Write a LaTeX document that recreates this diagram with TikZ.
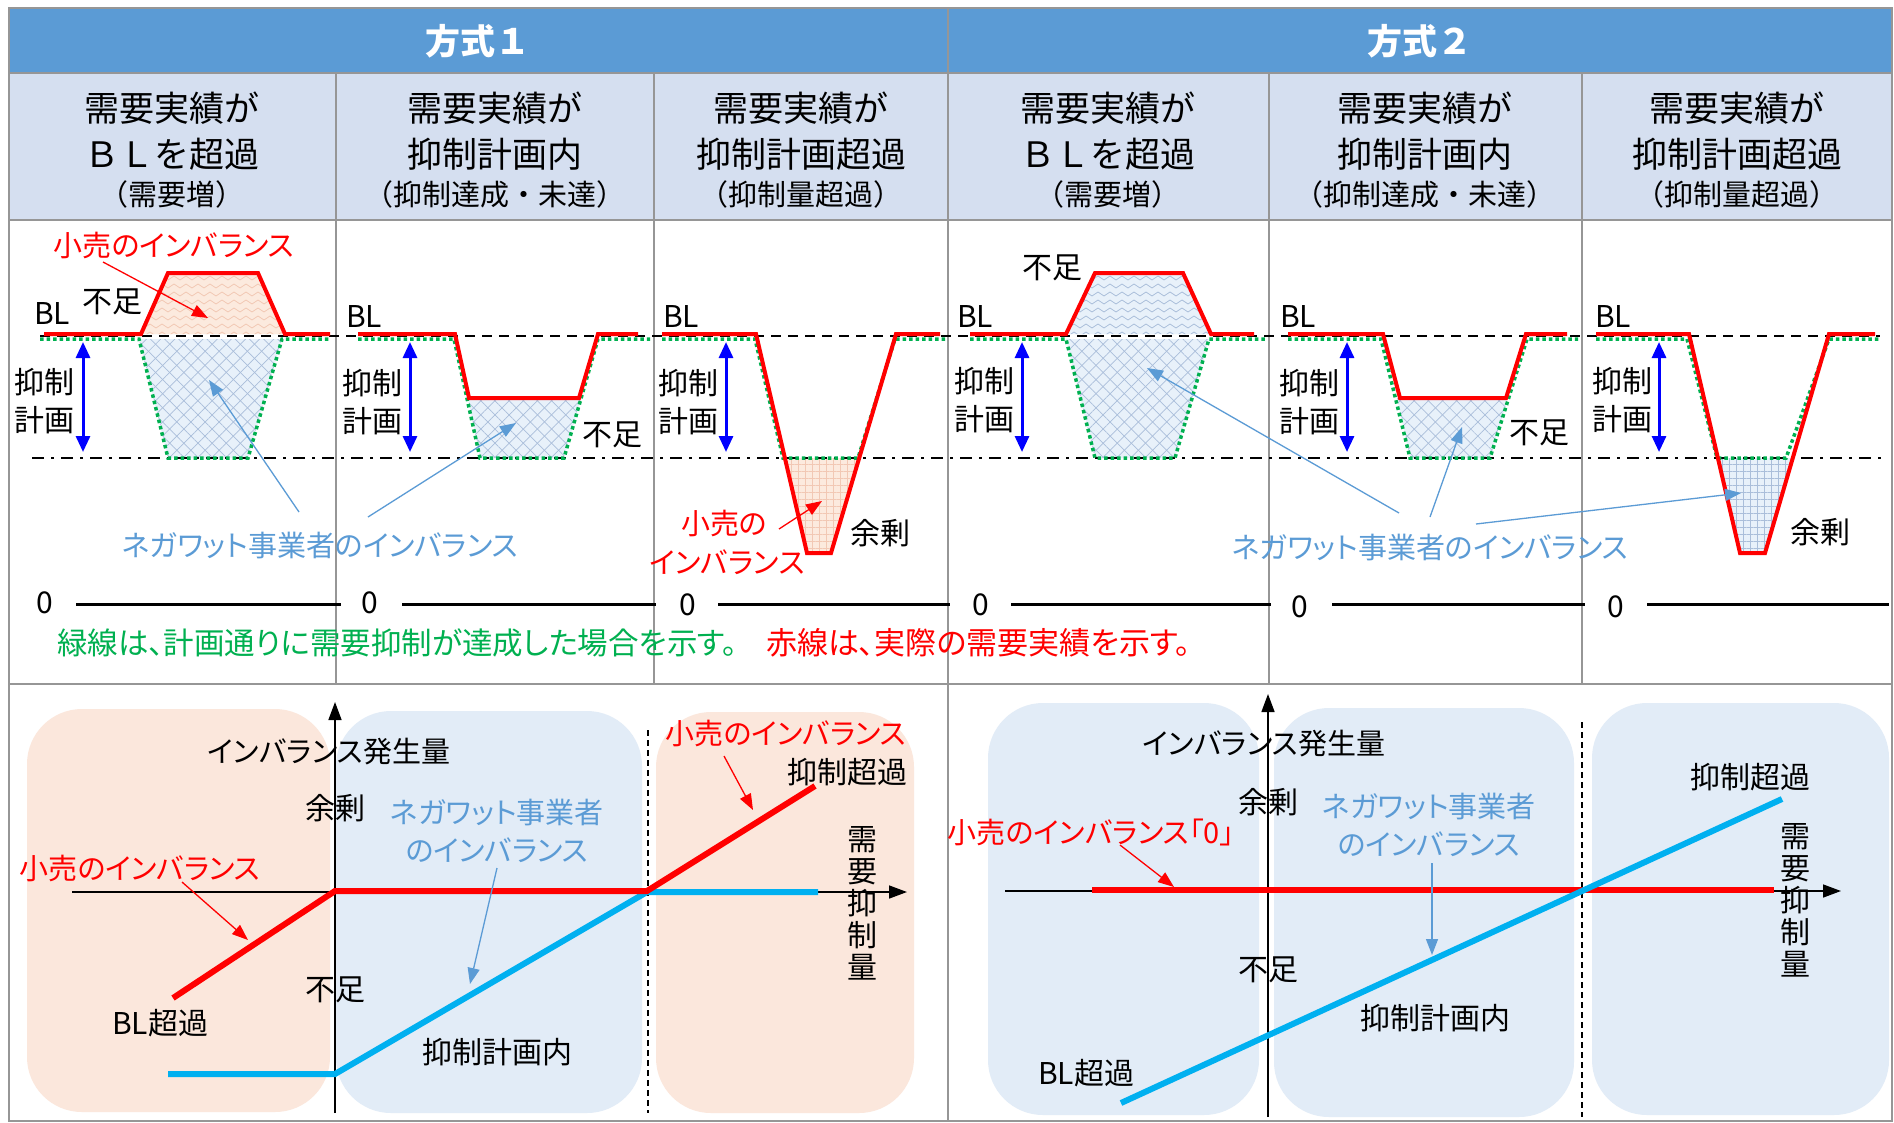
\documentclass[tikz,border=0pt]{standalone}
\usepackage{fontspec}
\setmainfont[RawFeature=+palt]{Noto Sans CJK JP}
\newfontfamily\jpfix{Noto Sans CJK JP}
\usetikzlibrary{arrows.meta,patterns.meta}

\definecolor{hdrblue}{RGB}{91,155,213}
\definecolor{subhdr}{RGB}{213,223,240}
\definecolor{gridgray}{RGB}{150,150,150}
\definecolor{redl}{RGB}{255,0,0}
\definecolor{greenl}{RGB}{0,176,80}
\definecolor{lblue}{RGB}{91,155,213}
\definecolor{cyanl}{RGB}{0,176,240}
\definecolor{panelblue}{RGB}{226,236,247}
\definecolor{panelorange}{RGB}{251,231,220}
\definecolor{fillblue}{RGB}{232,241,250}
\definecolor{fillorange}{RGB}{252,234,222}
\definecolor{patblue}{RGB}{170,190,218}
\definecolor{patorange}{RGB}{242,200,180}

\pgfdeclarepattern{
  name=zigzagp,
  type=uncolored,
  bottom left={\pgfpoint{-1pt}{-1pt}},
  top right={\pgfpoint{13pt}{9pt}},
  tile size={\pgfpoint{12pt}{8pt}},
  code={
    \pgfsetlinewidth{0.8pt}
    \pgfpathmoveto{\pgfpoint{0pt}{2pt}}
    \pgfpathlineto{\pgfpoint{6pt}{6pt}}
    \pgfpathlineto{\pgfpoint{12pt}{2pt}}
    \pgfusepath{stroke}
  }
}

\tikzset{
  hdr/.style={inner sep=0pt, text=white, font=\jpfix\bfseries\fontsize{35}{38}\selectfont},
  subA/.style={inner sep=0pt, font=\jpfix\fontsize{35}{38}\selectfont},
  subB/.style={inner sep=0pt, font=\jpfix\fontsize{29}{31}\selectfont},
  lab/.style={inner sep=0pt, font=\fontsize{30}{32}\selectfont},
  labs/.style={inner sep=0pt, font=\fontsize{29}{32}\selectfont},
  notesg/.style={inner sep=0pt, font=\fontsize{30.5}{34}\selectfont},
  notes/.style={inner sep=0pt, font=\fontsize{31}{34}\selectfont},
  redtxt/.style={labs, text=redl},
  bluetxt/.style={labs, text=lblue},
  gridln/.style={draw=gridgray, line width=2.5pt},
  redln/.style={draw=redl, line width=4pt},
  greenln/.style={draw=greenl, line width=3.5pt, dash pattern=on 3.5pt off 3pt},
  bldash/.style={draw=black, line width=2.5pt, dash pattern=on 10pt off 7pt},
  ddash/.style={draw=black, line width=2.5pt, dash pattern=on 12pt off 7pt on 3pt off 7pt},
  planarr/.style={draw=blue, line width=3pt, {Triangle[length=16pt,width=14pt]}-{Triangle[length=16pt,width=14pt]}},
  annb/.style={draw=lblue, line width=1.3pt, -{Triangle[length=16pt,width=12pt]}},
  annr/.style={draw=redl, line width=1.3pt, -{Triangle[length=16pt,width=12pt]}},
  axisarr/.style={draw=black, line width=1.5pt, -{Triangle[length=18pt,width=13pt]}},
  zeroln/.style={draw=black, line width=3pt},
  thickred/.style={draw=redl, line width=6pt},
  thickcyan/.style={draw=cyanl, line width=6pt},
  vdash/.style={draw=black, line width=1.2pt, dash pattern=on 6pt off 4pt},
  panelO/.style={fill=panelorange, rounded corners=55pt},
  panelB/.style={fill=panelblue, rounded corners=55pt},
  netfill/.style={fill=fillblue,
     postaction={pattern={Lines[angle=45,distance=10pt,line width=0.7pt]}, pattern color=patblue},
     postaction={pattern={Lines[angle=-45,distance=10pt,line width=0.7pt]}, pattern color=patblue}},
  netzig/.style={fill=fillblue, postaction={pattern=zigzagp, pattern color=patblue}},
  netgrid/.style={fill=fillblue,
     postaction={pattern={Lines[angle=0,distance=7pt,line width=0.6pt]}, pattern color=patblue},
     postaction={pattern={Lines[angle=90,distance=7pt,line width=0.6pt]}, pattern color=patblue}},
  retailzig/.style={fill=fillorange, postaction={pattern=zigzagp, pattern color=patorange}},
  retailgrid/.style={fill=fillorange,
     postaction={pattern={Lines[angle=0,distance=7pt,line width=0.6pt]}, pattern color=patorange},
     postaction={pattern={Lines[angle=90,distance=7pt,line width=0.6pt]}, pattern color=patorange}},
}

\begin{document}
\begin{tikzpicture}[x=1pt,y=-1pt]
\useasboundingbox (0,0) rectangle (1894,1122);
\fill[white] (0,0) rectangle (1894,1122);

% ---------- header fills ----------
\fill[hdrblue] (9,8) rectangle (1892,73);
\fill[subhdr] (9,73) rectangle (1892,220);

% ---------- bottom panels ----------
\path[panelO] (27,709) rectangle (330,1112);
\path[panelB] (336,711) rectangle (642,1113);
\path[panelO] (656,712) rectangle (914,1113);
\path[panelB] (988,703) rectangle (1259,1115);
\path[panelB] (1274,708) rectangle (1574,1117);
\path[panelB] (1592,703) rectangle (1889,1115);

% ---------- table grid ----------
\draw[gridln] (9,8) rectangle (1892,1121);
\draw[gridln] (9,73) -- (1892,73);
\draw[gridln] (9,220) -- (1892,220);
\draw[gridln] (9,684) -- (1892,684);
\draw[gridln] (948,8) -- (948,1121);
\foreach \gx in {336,654,1269,1582} \draw[gridln] (\gx,73) -- (\gx,684);

% ---------- headers ----------
\node[hdr] (hA) at (478,41) {方式１};
\node[hdr] (hB) at (1420,41) {方式２};
\foreach \n/\cx/\lb/\lc in {1/172/ＢＬを超過/（需要増）, 2/495/抑制計画内/（抑制達成・未達）, 3/801/抑制計画超過/（抑制量超過）, 4/1108/ＢＬを超過/（需要増）, 5/1425/抑制計画内/（抑制達成・未達）, 6/1737/抑制計画超過/（抑制量超過）}{
  \node[subA] (sa\n) at (\cx,108) {需要実績が};
  \node[subA] (sb\n) at (\cx,154) {\lb};
  \node[subB] (sc\n) at (\cx,194) {\lc};
}

% ---------- middle: fills ----------
\path[retailzig] (141,334) -- (168,273) -- (258,273) -- (285,334) -- cycle;
\path[netfill] (139,339) -- (168,458) -- (248,458) -- (282,339) -- cycle;
\path[netfill] (468,398) -- (581,398) -- (564,458) -- (480,458) -- cycle;
\path[retailgrid] (785,458) -- (807,553) -- (831,553) -- (860,458) -- cycle;
\path[netzig] (1066,334) -- (1095,273) -- (1183,273) -- (1211,334) -- cycle;
\path[netfill] (1066,339) -- (1095,458) -- (1175,458) -- (1209,339) -- cycle;
\path[netfill] (1397,398) -- (1508,398) -- (1490,458) -- (1410,458) -- cycle;
\path[netgrid] (1718,458) -- (1740,553) -- (1765,553) -- (1793,458) -- cycle;

% ---------- middle: reference lines ----------
\draw[bldash] (40,336) -- (1880,336);
\draw[ddash] (32,458) -- (1884,458);

% ---------- middle: green (plan) ----------
\draw[greenln] (40,339) -- (139,339) -- (168,458) -- (248,458) -- (282,339) -- (330,339);
\draw[greenln] (358,339) -- (454,339) -- (480,458) -- (564,458) -- (598,339) -- (650,339);
\draw[greenln] (662,339) -- (755,339) -- (783,458) -- (858,458) -- (895,339) -- (945,339);
\draw[greenln] (970,339) -- (1066,339) -- (1095,458) -- (1175,458) -- (1209,339) -- (1265,339);
\draw[greenln] (1288,339) -- (1381,339) -- (1410,458) -- (1490,458) -- (1527,339) -- (1578,339);
\draw[greenln] (1596,339) -- (1687,339) -- (1717,458) -- (1786,458) -- (1829,339) -- (1879,339);

% ---------- middle: red (actual) ----------
\draw[redln] (44,334) -- (141,334) -- (168,273) -- (258,273) -- (285,334) -- (330,334);
\draw[redln] (358,334) -- (455,334) -- (469,398) -- (579,398) -- (598,334) -- (638,334);
\draw[redln] (662,334) -- (756,334) -- (807,553) -- (831,553) -- (896,334) -- (940,334);
\draw[redln] (970,334) -- (1066,334) -- (1095,273) -- (1183,273) -- (1211,334) -- (1254,334);
\draw[redln] (1288,334) -- (1383,334) -- (1400,398) -- (1506,398) -- (1526,334) -- (1567,334);
\draw[redln] (1596,334) -- (1689,334) -- (1740,553) -- (1765,553) -- (1829,334) -- (1875,334);

% ---------- middle: plan arrows and labels ----------
\foreach \n/\ax/\lx/\ly/\bx/\by in {1/83/44/382/52/313, 2/410/372/383/364/316, 3/726/688/383/681/316, 4/1022/984/381/975/316, 5/1347/1309/383/1298/316, 6/1659/1622/381/1613/316}{
  \coordinate (pt\n) at (\ax,342);
  \coordinate (pb\n) at (\ax,452);
  \draw[planarr] (pt\n) -- (pb\n);
  \node[lab] (yk\n) at (\lx,\ly) {抑制};
  \node[lab] (kk\n) at (\lx,\ly+38) {計画};
  \node[lab] (bl\n) at (\bx,\by) {BL};
}
\node[lab] (fs1) at (112,302) {不足};
\node[lab] (fs2) at (612,435) {不足};
\node[lab] (fs4) at (1052,268) {不足};
\node[lab] (fs5) at (1539,433) {不足};
\node[lab] (yj3) at (880,533) {余剰};
\node[lab] (yj6) at (1820,532) {余剰};

\node[redtxt] (ri1) at (174,245) {小売のインバランス};
\node[redtxt] (ri3a) at (724,523) {小売の};
\node[redtxt] (ri3b) at (727,562) {インバランス};
\coordinate (r1s) at (103,262); \coordinate (r1e) at (208,318);
\draw[annr] (r1s) -- (r1e);
\coordinate (r3s) at (779,529); \coordinate (r3e) at (822,501);
\draw[annr] (r3s) -- (r3e);

\node[bluetxt] (ni1) at (320,545) {ネガワット事業者のインバランス};
\node[bluetxt] (ni2) at (1430,547) {ネガワット事業者のインバランス};
\coordinate (b1s) at (299,512); \coordinate (b1e) at (209,380);
\coordinate (b2s) at (368,517); \coordinate (b2e) at (516,423);
\coordinate (b3s) at (1399,513); \coordinate (b3e) at (1147,368);
\coordinate (b4s) at (1430,517); \coordinate (b4e) at (1462,427);
\coordinate (b5s) at (1476,524); \coordinate (b5e) at (1741,493);
\foreach \k in {1,...,5} \draw[annb] (b\k s) -- (b\k e);

% ---------- middle: zero lines ----------
\foreach \n/\zx/\zy/\za/\zb in {1/45/603/76/341, 2/370/603/402/656, 3/688/605/718/950, 4/981/605/1011/1271, 5/1300/607/1332/1585, 6/1616/607/1647/1889}{
  \node[lab] (z\n) at (\zx,\zy) {0};
  \draw[zeroln] (\za,604) -- (\zb,604);
}

\node[notesg, text=greenl, anchor=west] (gnote) at (57,643) {緑線は、計画通りに需要抑制が達成した場合を示す。};
\node[notes, text=redl, anchor=west] (rnote) at (766,643) {赤線は、実際の需要実績を示す。};

% ---------- bottom left (方式1) ----------
\coordinate (oyA) at (335,1113); \coordinate (oyB) at (335,702);
\coordinate (oxA) at (72,892); \coordinate (oxB) at (907,892);
\draw[axisarr] (oyA) -- (oyB);
\draw[axisarr] (oxA) -- (oxB);
\draw[vdash] (648,730) -- (648,1113);
\draw[thickcyan] (168,1074) -- (335,1074) -- (647,892) -- (818,892);
\draw[thickred] (173,998) -- (335,891) -- (647,891) -- (815,786);

\node[labs] (ib1) at (329,752) {インバランス発生量};
\node[lab] (sj1) at (335,808) {余剰};
\node[bluetxt] (nw1a) at (497,812) {ネガワット事業者};
\node[bluetxt] (nw1b) at (497,850) {のインバランス};
\node[redtxt] (rt1a) at (140,868) {小売のインバランス};
\node[lab] (fk1) at (335,990) {不足};
\node[lab] (bo1) at (160,1023) {BL超過};
\node[lab] (kn1) at (497,1052) {抑制計画内};
\node[redtxt] (rt1b) at (786,733) {小売のインバランス};
\node[lab] (ko1) at (847,772) {抑制超過};
\node[lab, align=center] (dv1) at (862,903) {需\\要\\抑\\制\\量};
\coordinate (c1s) at (182,882); \coordinate (c1e) at (248,940);
\draw[annr] (c1s) -- (c1e);
\coordinate (c2s) at (724,756); \coordinate (c2e) at (753,810);
\draw[annr] (c2s) -- (c2e);
\coordinate (c3s) at (497,868); \coordinate (c3e) at (470,984);
\draw[annb] (c3s) -- (c3e);

% ---------- bottom right (方式2) ----------
\coordinate (pyA) at (1268,1117); \coordinate (pyB) at (1268,694);
\coordinate (pxA) at (1005,891); \coordinate (pxB) at (1841,891);
\draw[axisarr] (pyA) -- (pyB);
\draw[axisarr] (pxA) -- (pxB);
\draw[vdash] (1582,722) -- (1582,1117);
\draw[thickred] (1092,890) -- (1774,890);
\draw[thickcyan] (1121,1103) -- (1782,799);

\node[labs] (ib2) at (1264,744) {インバランス発生量};
\node[lab] (sj2) at (1268,802) {余剰};
\node[bluetxt] (nw2a) at (1429,806) {ネガワット事業者};
\node[bluetxt] (nw2b) at (1429,844) {のインバランス};
\node[redtxt] (rt2) at (1091,832) {小売のインバランス「0」};
\node[lab] (fk2) at (1268,970) {不足};
\node[lab] (kn2) at (1435,1018) {抑制計画内};
\node[lab] (bo2) at (1086,1073) {BL超過};
\node[lab] (ko2) at (1750,777) {抑制超過};
\node[lab, align=center] (dv2) at (1795,900) {需\\要\\抑\\制\\量};
\coordinate (d1s) at (1120,845); \coordinate (d1e) at (1174,887);
\draw[annr] (d1s) -- (d1e);
\coordinate (d2s) at (1432,863); \coordinate (d2e) at (1432,955);
\draw[annb] (d2s) -- (d2e);
\end{tikzpicture}
\end{document}
